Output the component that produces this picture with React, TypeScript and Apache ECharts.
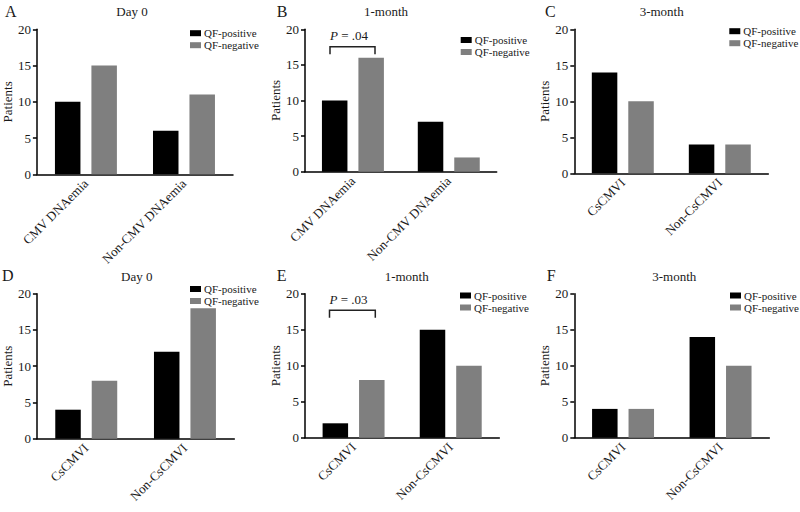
import React, { useEffect, useRef } from "react";
import * as echarts from "echarts";

const dnaCategories = ["CMV DNAemia", "Non-CMV DNAemia"];
const csCategories = ["CsCMVI", "Non-CsCMVI"];
const seriesNames = ["QF-positive", "QF-negative"];
const panelLetters = ["A", "B", "C", "D", "E", "F"];
const panelTitles = ["Day 0", "1-month", "3-month", "Day 0", "1-month", "3-month"];

const aPositive = [10, 6];
const aNegative = [15, 11];
const bPositive = [10, 7];
const bNegative = [16, 2];
const cPositive = [14, 4];
const cNegative = [10, 4];
const dPositive = [4, 12];
const dNegative = [8, 18];
const ePositive = [2, 15];
const eNegative = [8, 10];
const fPositive = [4, 14];
const fNegative = [4, 10];

const yMin = 0;
const yMax = 20;
const yInterval = 5;
const pValueB = ".04";
const pValueE = ".03";

const FONT = "Liberation Serif";
const TXT = "#1a1a1a";
const BLACK = "#000000";
const GRAY = "#7f7f7f";

// layout per panel
const grids = [
  { left: 35, top: 29.3, width: 198, height: 145 },
  { left: 305, top: 29.3, width: 191.7, height: 142.4 },
  { left: 574.3, top: 29.3, width: 194, height: 144 },
  { left: 35, top: 293.7, width: 199.3, height: 145 },
  { left: 305, top: 293.7, width: 194.3, height: 144 },
  { left: 574.3, top: 293.7, width: 195, height: 144 },
];
const legendPos = [
  { left: 190, top: 27.7 },
  { left: 460.7, top: 34.5 },
  { left: 729.3, top: 25.7 },
  { left: 190, top: 283.5 },
  { left: 460, top: 290 },
  { left: 730, top: 290 },
];
const titlePos = [
  [132, 11],
  [386, 11],
  [661.7, 11],
  [136.7, 276.7],
  [406.7, 276.7],
  [674.3, 276.7],
];
const letterPos = [
  [5, 11],
  [276.7, 11],
  [545, 11],
  [2, 275],
  [276.7, 275],
  [546.7, 275],
];

export default function App() {
  const ref = useRef<HTMLDivElement>(null);
  useEffect(() => {
    if (!ref.current) return;
    const chart = echarts.init(ref.current, undefined, { renderer: "svg" });
    const panelData = [
      [aPositive, aNegative, dnaCategories],
      [bPositive, bNegative, dnaCategories],
      [cPositive, cNegative, csCategories],
      [dPositive, dNegative, csCategories],
      [ePositive, eNegative, csCategories],
      [fPositive, fNegative, csCategories],
    ] as [number[], number[], string[]][];

    const xAxis = panelData.map((p, i) => ({
      type: "category",
      gridIndex: i,
      data: p[2],
      axisLine: { lineStyle: { color: BLACK, width: 1.5 } },
      axisTick: { alignWithLabel: true, length: 4, lineStyle: { color: BLACK, width: 1.5 } },
      axisLabel: {
        rotate: 45,
        interval: 0,
        margin: 7,
        fontSize: 13,
        fontFamily: FONT,
        color: TXT,
      },
      splitLine: { show: false },
    }));
    const yAxis = panelData.map((_, i) => ({
      type: "value",
      gridIndex: i,
      min: yMin,
      max: yMax,
      interval: yInterval,
      name: "Patients",
      nameLocation: "middle",
      nameGap: 22,
      nameTextStyle: { fontSize: 13, fontFamily: FONT, color: TXT },
      axisLine: { show: true, lineStyle: { color: BLACK, width: 1.5 } },
      axisTick: { show: true, length: 4, lineStyle: { color: BLACK, width: 1.5 } },
      axisLabel: { margin: 6, fontSize: 13, fontFamily: FONT, color: TXT },
      splitLine: { show: false },
    }));
    const series: any[] = [];
    panelData.forEach((p, i) => {
      series.push({
        type: "bar",
        name: seriesNames[0],
        xAxisIndex: i,
        yAxisIndex: i,
        data: p[0],
        barWidth: 25.5,
        barGap: "43%",
        itemStyle: { color: BLACK },
      });
      series.push({
        type: "bar",
        name: seriesNames[1],
        xAxisIndex: i,
        yAxisIndex: i,
        data: p[1],
        barWidth: 25.5,
        barGap: "43%",
        itemStyle: { color: GRAY },
      });
    });
    const legend = legendPos.map((lp) => ({
      data: seriesNames,
      orient: "vertical",
      left: lp.left,
      top: lp.top,
      itemWidth: 11,
      itemHeight: 6,
      itemGap: 1,
      padding: 0,
      selectedMode: false,
      icon: "rect",
      textStyle: { fontSize: 11, fontFamily: FONT, color: TXT, padding: [0, 0, 0, -2] },
    }));
    const graphic: any[] = [];
    panelTitles.forEach((t, i) => {
      graphic.push({
        type: "text",
        x: titlePos[i][0],
        y: titlePos[i][1],
        style: {
          text: t,
          fontSize: 13,
          fontFamily: FONT,
          fill: TXT,
          textAlign: "center",
          textVerticalAlign: "middle",
        },
      });
      graphic.push({
        type: "text",
        x: letterPos[i][0],
        y: letterPos[i][1],
        style: {
          text: panelLetters[i],
          fontSize: 16,
          fontFamily: FONT,
          fill: TXT,
          textAlign: "left",
          textVerticalAlign: "middle",
        },
      });
    });
    const brackets = [
      { p: pValueB, x0: 330, x1: 375, top: 46.7, bottom: 54.3, ty: 35 },
      { p: pValueE, x0: 329.5, x1: 375.3, top: 310.3, bottom: 317.7, ty: 299.3 },
    ];
    brackets.forEach((b) => {
      graphic.push({
        type: "polyline",
        shape: {
          points: [
            [b.x0, b.bottom],
            [b.x0, b.top],
            [b.x1, b.top],
            [b.x1, b.bottom],
          ],
        },
        style: { stroke: "#222", lineWidth: 1.5, fill: "none" },
      });
      graphic.push({
        type: "text",
        x: b.x0,
        y: b.ty,
        style: {
          text: "{i|P} = " + b.p,
          fontSize: 13,
          fontFamily: FONT,
          fill: TXT,
          textVerticalAlign: "middle",
          rich: { i: { fontStyle: "italic", fontSize: 13, fontFamily: FONT, fill: TXT } },
        },
      });
    });

    chart.setOption({
      animation: false,
      backgroundColor: "#ffffff",
      textStyle: { fontFamily: FONT },
      grid: grids,
      xAxis,
      yAxis,
      series,
      legend,
      graphic,
    });
    return () => chart.dispose();
  }, []);
  return (
    <div
      ref={ref}
      style={{ position: "fixed", left: 0, top: 0, width: 800, height: 512 }}
    />
  );
}
